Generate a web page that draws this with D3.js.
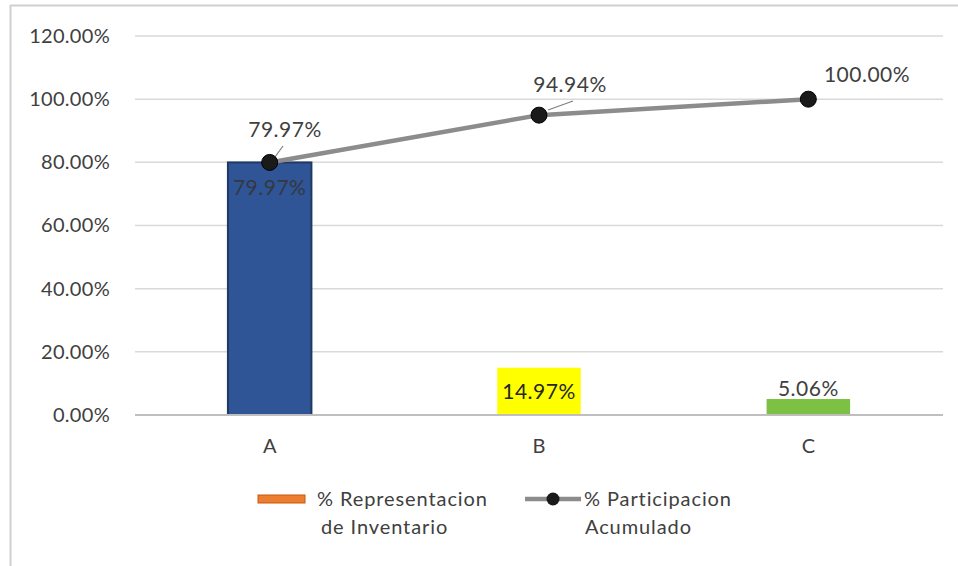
<!DOCTYPE html>
<html>
<head>
<meta charset="utf-8">
<script src="https://cdn.jsdelivr.net/npm/d3@7"></script>
<style>
  html, body { margin: 0; padding: 0; background: #fff; }
  svg text { font-family: Lato, "Liberation Sans", sans-serif; fill: #404040; }
</style>
</head>
<body>
<svg id="chart" width="958" height="566"></svg>
<script>
// Inventory ABC classification
const categories = ["A", "B", "C"];
const shareValues = [79.97, 14.97, 5.06];        // % Representacion de Inventario
const cumulativeValues = [79.97, 94.94, 100.00]; // % Participacion Acumulado
const barColors = ["#2F5597", "#FFFF00", "#7CC144"];
const yTicks = [0, 20, 40, 60, 80, 100, 120];
const seriesNames = [["% Representacion", "de Inventario"], ["% Participacion", "Acumulado"]];

const svg = d3.select("#chart");
const fmt = v => v.toFixed(2) + "%";

// chart frame
svg.append("line").attr("x1", 10.5).attr("x2", 10.5).attr("y1", 5).attr("y2", 566)
  .attr("stroke", "#d0d0d0").attr("stroke-width", 2);
svg.append("line").attr("x1", 10).attr("x2", 958).attr("y1", 5.5).attr("y2", 5.5)
  .attr("stroke", "#d0d0d0").attr("stroke-width", 2);

const plot = { left: 135, right: 943, top: 36, bottom: 415 };

const x = d3.scaleBand().domain(categories).range([plot.left, plot.right])
  .paddingInner(0.69).paddingOuter(0.345);
const y = d3.scaleLinear().domain([0, 120]).range([plot.bottom, plot.top]);

// gridlines
svg.append("g").selectAll("line").data(yTicks.filter(t => t > 0)).join("line")
  .attr("x1", plot.left).attr("x2", plot.right)
  .attr("y1", d => y(d)).attr("y2", d => y(d))
  .attr("stroke", "#d9d9d9").attr("stroke-width", 1.5);

// y axis labels
const yAxis = svg.append("g").attr("transform", `translate(${plot.left},0)`)
  .call(d3.axisLeft(y).tickValues(yTicks).tickFormat(fmt).tickSize(0).tickPadding(25));
yAxis.select(".domain").remove();
yAxis.selectAll("text").attr("font-size", 20).attr("letter-spacing", 0.3)
  .attr("fill", "#404040").attr("font-family", "Lato, 'Liberation Sans', sans-serif");

// bars
svg.append("g").selectAll("rect").data(categories).join("rect")
  .attr("x", d => x(d)).attr("width", x.bandwidth())
  .attr("y", (d, i) => y(shareValues[i]))
  .attr("height", (d, i) => y(0) - y(shareValues[i]))
  .attr("fill", (d, i) => barColors[i])
  .attr("stroke", (d, i) => i === 0 ? "#1F3864" : "none")
  .attr("stroke-width", 2);

// baseline
svg.append("line").attr("x1", plot.left).attr("x2", plot.right)
  .attr("y1", y(0)).attr("y2", y(0)).attr("stroke", "#bfbfbf").attr("stroke-width", 2);

// x axis labels
const xAxis = svg.append("g").attr("transform", `translate(0,${plot.bottom})`)
  .call(d3.axisBottom(x).tickSize(0).tickPadding(24));
xAxis.select(".domain").remove();
xAxis.selectAll("text").attr("font-size", 20)
  .attr("fill", "#404040").attr("font-family", "Lato, 'Liberation Sans', sans-serif");

// bar value labels
const cx = d => x(d) + x.bandwidth() / 2;
const labelFont = { size: 21, spacing: 0.5 };
function valueLabel(xp, yp, txt, color) {
  return svg.append("text").attr("x", xp).attr("y", yp)
    .attr("text-anchor", "middle").attr("font-size", labelFont.size)
    .attr("letter-spacing", labelFont.spacing).style("fill", color || "#404040")
    .text(txt);
}
valueLabel(cx("A"), y(shareValues[0]) + 33, fmt(shareValues[0]), "#35383f");
valueLabel(cx("B"), (y(shareValues[1]) + y(0)) / 2 + 8, fmt(shareValues[1]), "#262626");
valueLabel(cx("C"), y(shareValues[2]) - 3, fmt(shareValues[2]));

// cumulative line
const line = d3.line().x((d, i) => cx(categories[i])).y(d => y(d));
svg.append("path").datum(cumulativeValues).attr("d", line)
  .attr("fill", "none").attr("stroke", "#8c8c8c").attr("stroke-width", 4.5);

// leader lines for cumulative labels
const leaders = [[[283, 146], [275, 157]], [[573, 101], [548, 110]]];
svg.append("g").selectAll("line").data(leaders).join("line")
  .attr("x1", d => d[0][0]).attr("y1", d => d[0][1])
  .attr("x2", d => d[1][0]).attr("y2", d => d[1][1])
  .attr("stroke", "#7f7f7f").attr("stroke-width", 1.2);

svg.append("g").selectAll("circle").data(cumulativeValues).join("circle")
  .attr("cx", (d, i) => cx(categories[i])).attr("cy", d => y(d)).attr("r", 8)
  .attr("fill", "#1a1a1a").attr("stroke", "#000").attr("stroke-width", 1);

// cumulative labels
const cumLabelPos = [[285, 137], [570, 92], [867, 82]];
cumulativeValues.forEach((v, i) => valueLabel(cumLabelPos[i][0], cumLabelPos[i][1], fmt(v)));

// legend
const lg = svg.append("g").attr("font-size", 20).attr("letter-spacing", 0.9);
lg.append("rect").attr("x", 258).attr("y", 495).attr("width", 47).attr("height", 8)
  .attr("fill", "#ED7D31").attr("stroke", "#C55A11").attr("stroke-width", 1);
lg.append("text").attr("x", 317).attr("y", 506).text(seriesNames[0][0]);
lg.append("text").attr("x", 321).attr("y", 534).text(seriesNames[0][1]);
lg.append("line").attr("x1", 525).attr("x2", 581).attr("y1", 499).attr("y2", 499)
  .attr("stroke", "#8c8c8c").attr("stroke-width", 4.5);
lg.append("circle").attr("cx", 553).attr("cy", 499).attr("r", 6.5).attr("fill", "#1a1a1a");
lg.append("text").attr("x", 584).attr("y", 506).text(seriesNames[1][0]);
lg.append("text").attr("x", 585).attr("y", 534).text(seriesNames[1][1]);
</script>
</body>
</html>
